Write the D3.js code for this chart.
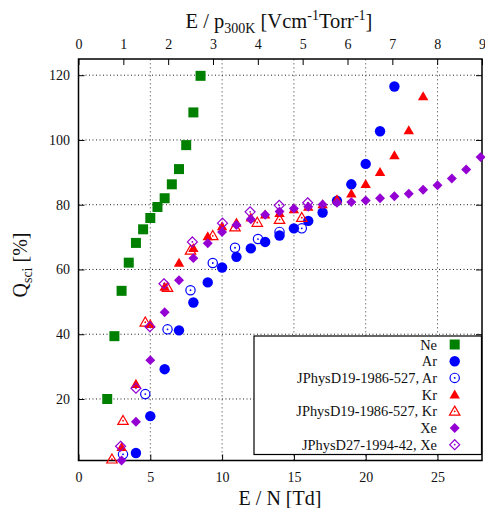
<!DOCTYPE html>
<html>
<head>
<meta charset="utf-8">
<script src="https://cdn.jsdelivr.net/npm/d3@7"></script>
<style>
  body { margin: 0; background: #fff; }
  svg { display: block; font-family: "Liberation Serif", "DejaVu Serif", serif; }
</style>
</head>
<body>
<div id="chart"></div>
<script>
// scintillation yield vs reduced field

const neTd = [2.0, 2.5, 3.0, 3.5, 4.0, 4.5, 5.0, 5.5, 6.0, 6.5, 7.0, 7.5, 8.0, 8.5];
const neQ = [20.0, 39.4, 53.4, 62.1, 68.2, 72.4, 75.9, 79.3, 82.0, 86.3, 91.0, 98.4, 108.5, 119.8];

const arTd = [4, 5, 6, 7, 8, 9, 10, 11, 12, 13, 14, 15, 16, 17, 18, 19, 20, 21, 22];
const arQ = [3.3, 14.7, 29.2, 41.2, 49.8, 56.0, 60.6, 63.9, 66.5, 68.5, 70.5, 72.7, 75.0, 77.6, 81.2, 86.3, 92.6, 102.7, 116.5];

const jArTd = [3.1, 4.65, 6.2, 7.8, 9.35, 10.9, 12.5, 14.0, 15.55];
const jArQ = [2.9, 21.5, 41.5, 53.6, 62.0, 66.7, 69.4, 71.6, 72.7];

const krTd = [3, 4, 5, 6, 7, 8, 9, 10, 11, 12, 13, 14, 15, 16, 17, 18, 19, 20, 21, 22, 23, 24];
const krQ = [5.1, 24.6, 43.1, 54.6, 62.0, 66.6, 70.2, 73.3, 74.4, 76.0, 76.9, 77.4, 78.5, 79.3, 80.1, 81.6, 83.4, 86.3, 90.0, 95.2, 102.9, 113.4];

const jKrTd = [2.33, 3.1, 4.65, 6.2, 7.8, 9.35, 10.9, 12.45, 14.0, 15.55];
const jKrQ = [1.4, 13.3, 43.7, 54.4, 65.9, 70.4, 73.1, 74.5, 75.4, 76.0];

const xeTd = [3, 4, 5, 6, 7, 8, 9, 10, 11, 12, 13, 14, 15, 16, 17, 18, 19, 20, 21, 22, 23, 24, 25, 26, 27, 28];
const xeQ = [1.0, 13.0, 32.0, 46.8, 56.7, 63.5, 68.1, 71.6, 73.7, 75.5, 76.9, 77.9, 78.8, 79.4, 80.1, 80.6, 80.8, 81.3, 82.0, 82.6, 83.4, 84.6, 86.0, 88.1, 90.9, 94.7];

const jXeTd = [2.93, 4.0, 4.97, 5.95, 7.93, 10.03, 11.95, 13.98, 15.96];
const jXeQ = [5.4, 23.3, 42.3, 55.6, 68.5, 74.3, 77.8, 79.8, 80.6];

const bottomTicks = [0, 5, 10, 15, 20, 25];
const topTicks = [0, 1, 2, 3, 4, 5, 6, 7, 8, 9];
const yTicks = [20, 40, 60, 80, 100, 120];

const width = 485, height = 508;
const margin = { top: 59, right: 3, bottom: 47.5, left: 78.5 };
const x0 = margin.left, x1 = width - margin.right;
const y0 = height - margin.bottom, y1 = margin.top;

const svg = d3.select("#chart").append("svg")
  .attr("width", width)
  .attr("height", height);

const x = d3.scaleLinear().domain([0, 28.1]).range([x0, x1]);
const xTop = d3.scaleLinear().domain([0, 9]).range([x0, x1]);
const y = d3.scaleLinear().domain([1, 125]).range([y0, y1]);

// grid
svg.append("g").selectAll("line")
  .data(bottomTicks.filter(d => d > 0))
  .enter().append("line")
  .attr("x1", d => x(d)).attr("x2", d => x(d))
  .attr("y1", y0).attr("y2", y1)
  .attr("stroke", "#777").attr("stroke-width", 1)
  .attr("stroke-dasharray", "1.5,2.5");

svg.append("g").selectAll("line")
  .data(yTicks)
  .enter().append("line")
  .attr("x1", x0).attr("x2", x1)
  .attr("y1", d => y(d)).attr("y2", d => y(d))
  .attr("stroke", "#222").attr("stroke-width", 1)
  .attr("stroke-dasharray", "1,2.5");

// axes (ticks point inward)
function styleAxis(g) {
  g.attr("font-family", null).attr("font-size", null);
  g.select(".domain").remove();
  g.selectAll(".tick line").attr("stroke", "#000").attr("stroke-width", 1);
  g.selectAll(".tick text").attr("font-size", "14px").attr("fill", "#111");
}

svg.append("g").attr("transform", `translate(0,${y0})`)
  .call(d3.axisBottom(x).tickValues(bottomTicks).tickSizeInner(-6).tickSizeOuter(0).tickPadding(12))
  .call(styleAxis);

svg.append("g").attr("transform", `translate(0,${y1})`)
  .call(d3.axisTop(xTop).tickValues(topTicks).tickSizeInner(-6).tickSizeOuter(0).tickPadding(10))
  .call(styleAxis);

svg.append("g").attr("transform", `translate(${x0},0)`)
  .call(d3.axisLeft(y).tickValues(yTicks).tickSizeInner(-6).tickSizeOuter(0).tickPadding(8.5))
  .call(styleAxis);

svg.append("g").attr("transform", `translate(${x1},0)`)
  .call(d3.axisRight(y).tickValues(yTicks).tickSizeInner(-6).tickSizeOuter(0).tickFormat(""))
  .call(styleAxis);

// frame
svg.append("rect")
  .attr("x", x0).attr("y", y1)
  .attr("width", x1 - x0).attr("height", y0 - y1)
  .attr("fill", "none").attr("stroke", "#000").attr("stroke-width", 1.5);

// marker shapes
const squareType = { draw(ctx, s) { const h = Math.sqrt(s) / 2; ctx.rect(-h, -h, 2 * h, 2 * h); } };
const circleType = { draw(ctx, s) { const r = Math.sqrt(s / Math.PI); ctx.moveTo(r, 0); ctx.arc(0, 0, r, 0, 2 * Math.PI); } };
const triType = { draw(ctx, s) { const h = Math.sqrt(s) / 2; ctx.moveTo(0, -h * 1.1); ctx.lineTo(h * 1.1, h * 0.8); ctx.lineTo(-h * 1.1, h * 0.8); ctx.closePath(); } };
const diaType = { draw(ctx, s) { const h = Math.sqrt(s) / 2 * 1.1; ctx.moveTo(0, -h); ctx.lineTo(h, 0); ctx.lineTo(0, h); ctx.lineTo(-h, 0); ctx.closePath(); } };

const series = [
  { label: "Ne", xs: neTd, ys: neQ, color: "#008000", type: squareType, size: 100, open: false },
  { label: "Ar", xs: arTd, ys: arQ, color: "#0000ff", type: circleType, size: 85, open: false },
  { label: "JPhysD19-1986-527, Ar", xs: jArTd, ys: jArQ, color: "#0000ff", type: circleType, size: 68, open: true },
  { label: "Kr", xs: krTd, ys: krQ, color: "#ff0000", type: triType, size: 90, open: false },
  { label: "JPhysD19-1986-527, Kr", xs: jKrTd, ys: jKrQ, color: "#ff0000", type: triType, size: 90, open: true },
  { label: "Xe", xs: xeTd, ys: xeQ, color: "#9400d3", type: diaType, size: 82, open: false },
  { label: "JPhysD27-1994-42, Xe", xs: jXeTd, ys: jXeQ, color: "#9400d3", type: diaType, size: 82, open: true },
];

function drawMarker(g, s) {
  g.append("path")
    .attr("d", d3.symbol().type(s.type).size(s.size)())
    .attr("fill", s.open ? "none" : s.color)
    .attr("stroke", s.open ? s.color : "none")
    .attr("stroke-width", 1.2);
  if (s.open) {
    g.append("circle").attr("r", 0.9).attr("fill", s.color);
  }
}

const pointsLayer = svg.append("g");
series.forEach(s => {
  const pts = s.xs.map((v, i) => [v, s.ys[i]]);
  pointsLayer.append("g").selectAll("g")
    .data(pts)
    .enter().append("g")
    .attr("transform", d => `translate(${x(d[0])},${y(d[1])})`)
    .each(function () { drawMarker(d3.select(this), s); });
});

// legend
const legend = svg.append("g");
legend.append("rect")
  .attr("x", 254).attr("y", 336)
  .attr("width", 227.5).attr("height", 118.5)
  .attr("fill", "#fff").attr("stroke", "#000").attr("stroke-width", 1.2);

const rowY = d3.scaleLinear().domain([0, 6]).range([344.5, 444.7]);
series.forEach((s, i) => {
  legend.append("text")
    .attr("x", 437).attr("y", rowY(i)).attr("dy", "0.35em")
    .attr("text-anchor", "end").attr("font-size", "14.4px").attr("fill", "#111")
    .text(s.label);
  const g = legend.append("g").attr("transform", `translate(454.7,${rowY(i)})`);
  drawMarker(g, s);
});

// axis titles
svg.append("text")
  .attr("x", 280).attr("y", 505)
  .attr("text-anchor", "middle").attr("font-size", "20px").attr("fill", "#111")
  .text("E / N [Td]");

const topTitle = svg.append("text")
  .attr("x", 279).attr("y", 28)
  .attr("text-anchor", "middle").attr("font-size", "20.5px").attr("fill", "#111");
topTitle.append("tspan").text("E / p");
topTitle.append("tspan").attr("font-size", "14px").attr("dy", 5).text("300K");
topTitle.append("tspan").attr("dy", -5).text(" [Vcm");
topTitle.append("tspan").attr("font-size", "14px").attr("dy", -8).text("-1");
topTitle.append("tspan").attr("dy", 8).text("Torr");
topTitle.append("tspan").attr("font-size", "14px").attr("dy", -8).text("-1");
topTitle.append("tspan").attr("dy", 8).text("]");

const yTitle = svg.append("text")
  .attr("transform", "translate(27,265) rotate(-90)")
  .attr("text-anchor", "middle").attr("font-size", "20px").attr("fill", "#111");
yTitle.append("tspan").text("Q");
yTitle.append("tspan").attr("font-size", "14px").attr("dy", 5).text("sci");
yTitle.append("tspan").attr("dy", -5).text(" [%]");
</script>
</body>
</html>
